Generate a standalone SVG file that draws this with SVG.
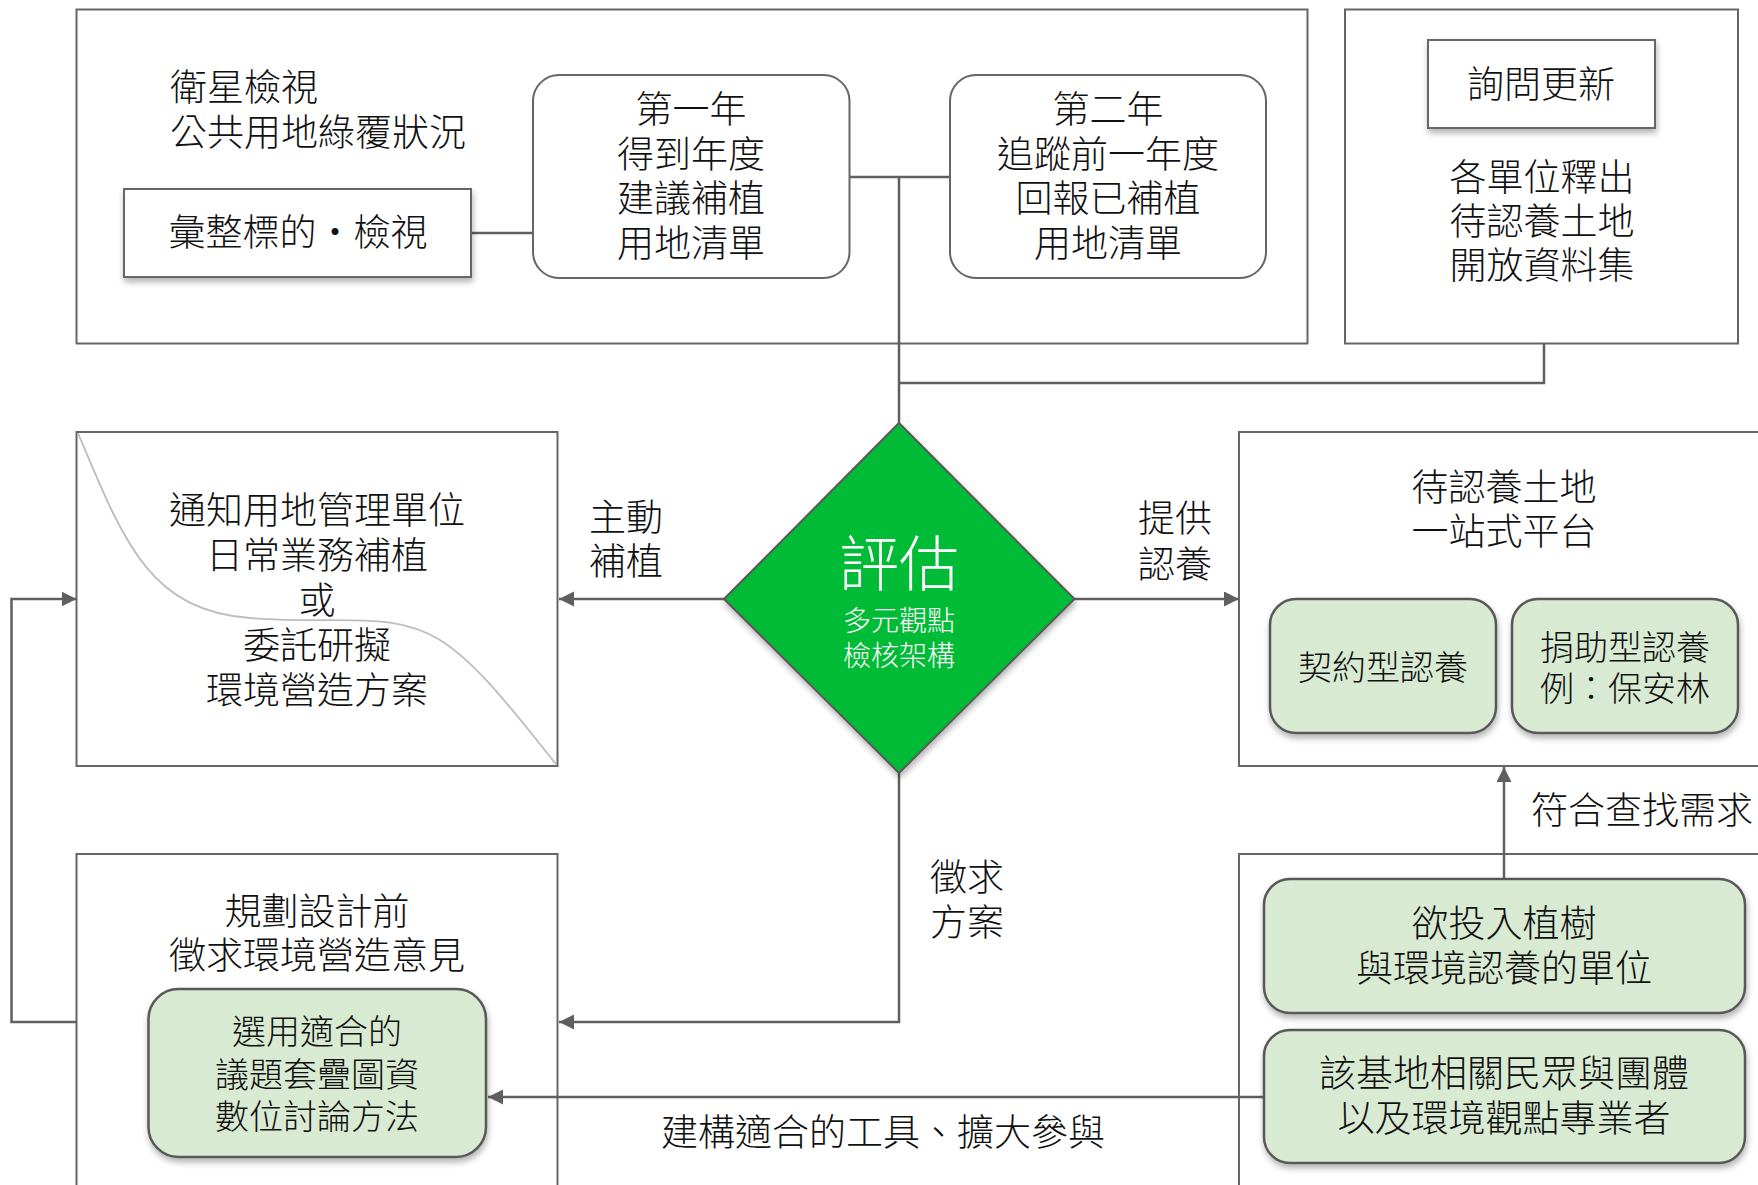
<svg xmlns="http://www.w3.org/2000/svg" width="1758" height="1185" viewBox="0 0 1758 1185">
<defs>
<style>
.t{font-family:"Noto Sans CJK TC","Noto Sans CJK SC",sans-serif;font-size:37px;font-weight:300;fill:#111;text-anchor:middle}
.l{text-anchor:start}
.s{font-size:34px}
.frame{fill:#fff;stroke:#666;stroke-width:2}
.box{fill:#fff;stroke:#666;stroke-width:2}
.green{fill:#d9ead3;stroke:#595959;stroke-width:2.5}
.conn{fill:none;stroke:#5f5f5f;stroke-width:2.5}
</style>
<filter id="sh" x="-10%" y="-10%" width="120%" height="130%">
<feDropShadow dx="1" dy="4" stdDeviation="3" flood-color="#000" flood-opacity="0.3"/>
</filter>
<marker id="arr" markerUnits="userSpaceOnUse" markerWidth="16" markerHeight="16" refX="15" refY="7.5" orient="auto">
<path d="M0,0 L15,7.5 L0,15 z" fill="#5f5f5f"/>
</marker>
</defs>
<rect width="1758" height="1185" fill="#fff"/>

<g id="frame-satellite">
<rect class="frame" x="76.5" y="9.5" width="1231" height="334"/>
<text class="t l" x="170" y="101">衛星檢視</text>
<text class="t l" x="170" y="146">公共用地綠覆狀況</text>
</g>
<g id="frame-update">
<rect class="frame" x="1345" y="9.5" width="393" height="334"/>
<text class="t" x="1542" y="191">各單位釋出</text>
<text class="t" x="1542" y="235">待認養土地</text>
<text class="t" x="1542" y="279">開放資料集</text>
</g>
<g id="frame-notify">
<rect class="frame" x="76.5" y="432" width="481" height="334"/>
<path d="M78,433 C125,545 150,610 250,618 C340,625 390,610 440,640 C480,665 520,720 556,764" fill="none" stroke="#bdbdbd" stroke-width="1.8"/>
<text class="t" x="317" y="524">通知用地管理單位</text>
<text class="t" x="317" y="569">日常業務補植</text>
<text class="t" x="317" y="614">或</text>
<text class="t" x="317" y="659">委託研擬</text>
<text class="t" x="317" y="704">環境營造方案</text>
</g>
<g id="frame-platform">
<rect class="frame" x="1239" y="432" width="540" height="334"/>
<text class="t" x="1504" y="501">待認養土地</text>
<text class="t" x="1504" y="545">一站式平台</text>
</g>
<g id="frame-planning">
<rect class="frame" x="76.5" y="854" width="481" height="360"/>
<text class="t" x="317" y="925">規劃設計前</text>
<text class="t" x="317" y="969">徵求環境營造意見</text>
</g>
<g id="frame-units">
<rect class="frame" x="1239" y="854" width="540" height="360"/>
</g>

<g id="connectors">
<path class="conn" d="M471.5,233 H533"/>
<path class="conn" d="M849.5,177 H950"/>
<path class="conn" d="M899,177 V423"/>
<path class="conn" d="M899,383 H1544 V343"/>
<path class="conn" d="M724,599 H559" marker-end="url(#arr)"/>
<path class="conn" d="M1074.5,599 H1239" marker-end="url(#arr)"/>
<path class="conn" d="M899,773 V1022 H559" marker-end="url(#arr)"/>
<path class="conn" d="M76.5,1022 H11.5 V599 H76.5" marker-end="url(#arr)"/>
<path class="conn" d="M1504,879 V767" marker-end="url(#arr)"/>
<path class="conn" d="M1264,1097 H488" marker-end="url(#arr)"/>
<text class="t l" x="589" y="531">主動</text>
<text class="t l" x="589" y="575">補植</text>
<text class="t l" x="1138" y="532">提供</text>
<text class="t l" x="1138" y="578">認養</text>
<text class="t l" x="930" y="891">徵求</text>
<text class="t l" x="930" y="936">方案</text>
<text class="t l" x="1531" y="824">符合查找需求</text>
<text class="t" x="883" y="1146">建構適合的工具、擴大參與</text>
</g>

<g id="node-collect">
<rect class="box" x="124" y="189" width="347" height="88" filter="url(#sh)"/>
<text class="t" x="298" y="246">彙整標的・檢視</text>
</g>
<g id="node-year1">
<rect class="box" x="533" y="75" width="316.5" height="203" rx="26"/>
<text class="t" x="691" y="123">第一年</text>
<text class="t" x="691" y="168">得到年度</text>
<text class="t" x="691" y="212">建議補植</text>
<text class="t" x="691" y="257">用地清單</text>
</g>
<g id="node-year2">
<rect class="box" x="950" y="75" width="316" height="203" rx="26"/>
<text class="t" x="1108" y="123">第二年</text>
<text class="t" x="1108" y="168">追蹤前一年度</text>
<text class="t" x="1108" y="212">回報已補植</text>
<text class="t" x="1108" y="257">用地清單</text>
</g>
<g id="node-ask">
<rect class="box" x="1428" y="40" width="227" height="88" filter="url(#sh)"/>
<text class="t" x="1541" y="98">詢問更新</text>
</g>
<g id="node-evaluate">
<path d="M899,423 L1074.5,599 L899,773 L724,599 z" fill="#00bb35" stroke="#595959" stroke-width="2" filter="url(#sh)"/>
<text class="t" x="899" y="586" style="font-size:60px;fill:#fff">評估</text>
<text class="t" x="899" y="631" style="font-size:28px;fill:#fff">多元觀點</text>
<text class="t" x="899" y="666" style="font-size:28px;fill:#fff">檢核架構</text>
</g>
<g id="node-contract">
<rect class="green" x="1270" y="599" width="226" height="134" rx="26" filter="url(#sh)"/>
<text class="t s" x="1383" y="680">契約型認養</text>
</g>
<g id="node-donate">
<rect class="green" x="1512" y="599" width="226" height="134" rx="26" filter="url(#sh)"/>
<text class="t s" x="1625" y="660">捐助型認養</text>
<text class="t s" x="1625" y="701">例：保安林</text>
</g>
<g id="node-invest">
<rect class="green" x="1264" y="879" width="481" height="134" rx="26" filter="url(#sh)"/>
<text class="t" x="1504" y="937">欲投入植樹</text>
<text class="t" x="1504" y="982">與環境認養的單位</text>
</g>
<g id="node-public">
<rect class="green" x="1264" y="1030" width="481" height="133" rx="26" filter="url(#sh)"/>
<text class="t" x="1504" y="1087">該基地相關民眾與團體</text>
<text class="t" x="1504" y="1132">以及環境觀點專業者</text>
</g>
<g id="node-tools">
<rect class="green" x="148.5" y="989" width="337.5" height="168" rx="30" filter="url(#sh)"/>
<text class="t s" x="317" y="1044">選用適合的</text>
<text class="t s" x="317" y="1087">議題套疊圖資</text>
<text class="t s" x="317" y="1129">數位討論方法</text>
</g>
</svg>
